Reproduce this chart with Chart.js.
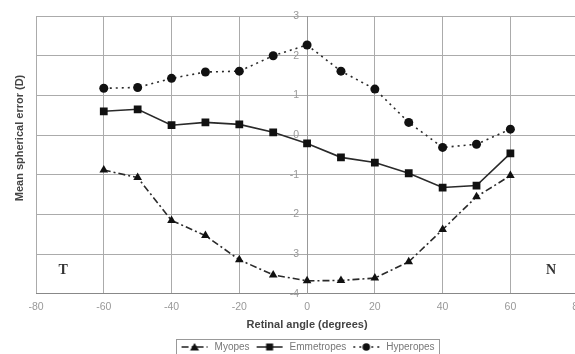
<!DOCTYPE html>
<html>
<head>
<meta charset="utf-8">
<script src="https://cdn.jsdelivr.net/npm/chart.js@4.4.1/dist/chart.umd.min.js"></script>
<style>
  html, body { margin: 0; padding: 0; background: #fff; overflow: hidden; }
  #wrap { width: 591px; height: 354px; }
</style>
</head>
<body>
<div id="wrap"><canvas id="refractionChart"></canvas></div>
<script>
// Datos
const angles = [-60, -50, -40, -30, -20, -10, 0, 10, 20, 30, 40, 50, 60];
const myopes = [-0.88, -1.07, -2.15, -2.53, -3.14, -3.52, -3.67, -3.66, -3.6, -3.19, -2.38, -1.55, -1.02];
const emmetropes = [0.6, 0.65, 0.25, 0.32, 0.27, 0.07, -0.21, -0.56, -0.69, -0.96, -1.32, -1.27, -0.46];
const hyperopes = [1.18, 1.2, 1.43, 1.59, 1.61, 2.0, 2.27, 1.61, 1.16, 0.32, -0.31, -0.23, 0.15];
const seriesNames = ['Myopes', 'Emmetropes', 'Hyperopes'];

const FONT = '"Liberation Sans", Arial, sans-serif';
const lineDashes = [[7, 3, 2, 3], [], [2, 4]];
const markers = ['triangle', 'rect', 'circle'];
const markerSizes = [5, 5.5, 4.5];

function toPoints(values) {
    return angles.map((a, i) => ({ x: a, y: values[i] }));
}

// muestra de línea + marcador para la leyenda
function legendSample(dash, marker) {
    const c = document.createElement('canvas');
    c.width = 30; c.height = 10;
    const g = c.getContext('2d');
    g.strokeStyle = '#222';
    g.lineWidth = 1.5;
    g.setLineDash(dash);
    g.beginPath(); g.moveTo(2, 5); g.lineTo(28, 5); g.stroke();
    g.fillStyle = '#111';
    g.beginPath();
    if (marker === 'triangle') {
        g.moveTo(15, 1); g.lineTo(19.5, 8.5); g.lineTo(10.5, 8.5);
    } else if (marker === 'rect') {
        g.rect(11.5, 1.5, 7, 7);
    } else {
        g.arc(15, 5, 3.8, 0, Math.PI * 2);
    }
    g.fill();
    return c;
}
const samples = seriesNames.map((n, i) => legendSample(lineDashes[i], markers[i]));

const yTitlePlugin = {
    id: 'yTitle',
    afterDraw(chart) {
        const ctx = chart.ctx;
        ctx.save();
        ctx.translate(20, 138);
        ctx.rotate(-Math.PI / 2);
        ctx.font = 'bold 11px ' + FONT;
        ctx.fillStyle = '#444';
        ctx.textAlign = 'center';
        ctx.textBaseline = 'middle';
        ctx.fillText('Mean spherical error (D)', 0, 0);
        ctx.restore();
    }
};

// etiquetas del eje Y junto a la línea x = 0
const yLabelsAtZero = {
    id: 'yLabelsAtZero',
    afterDraw(chart) {
        const { ctx, scales } = chart;
        const x0 = scales.x.getPixelForValue(0);
        ctx.save();
        ctx.font = '10.5px ' + FONT;
        ctx.fillStyle = '#999';
        ctx.textAlign = 'right';
        ctx.textBaseline = 'middle';
        scales.y.ticks.forEach(t => {
            ctx.fillText(String(t.value), x0 - 8, scales.y.getPixelForValue(t.value));
        });
        ctx.restore();
    }
};

const sideLetters = {
    id: 'sideLetters',
    afterDatasetsDraw(chart) {
        const { ctx, scales } = chart;
        ctx.save();
        ctx.font = 'bold 14px "Liberation Serif", "DejaVu Serif", serif';
        ctx.fillStyle = '#333';
        ctx.textAlign = 'center';
        ctx.textBaseline = 'middle';
        ctx.fillText('T', scales.x.getPixelForValue(-72), scales.y.getPixelForValue(-3.41));
        ctx.fillText('N', scales.x.getPixelForValue(72), scales.y.getPixelForValue(-3.41));
        ctx.restore();
    }
};

const legendFrame = {
    id: 'legendFrame',
    afterDraw(chart) {
        const boxes = chart.legend && chart.legend.legendHitBoxes;
        if (!boxes || !boxes.length) return;
        const left = Math.min(...boxes.map(b => b.left)) - 4;
        const right = Math.max(...boxes.map(b => b.left + b.width)) + 4;
        const top = Math.min(...boxes.map(b => b.top)) - 3;
        const bottom = Math.max(...boxes.map(b => b.top + b.height)) + 3;
        const ctx = chart.ctx;
        ctx.save();
        ctx.strokeStyle = '#999';
        ctx.lineWidth = 1;
        ctx.strokeRect(Math.round(left) + 0.5, Math.round(top) + 0.5, Math.round(right - left), Math.round(bottom - top));
        ctx.restore();
    }
};

const ctx = document.getElementById('refractionChart').getContext('2d');
new Chart(ctx, {
    type: 'line',
    data: {
        datasets: [myopes, emmetropes, hyperopes].map((vals, i) => ({
            label: seriesNames[i],
            data: toPoints(vals),
            borderColor: '#2a2a2a',
            borderWidth: 1.6,
            borderDash: lineDashes[i],
            pointStyle: markers[i],
            pointRadius: markerSizes[i],
            pointBackgroundColor: '#111',
            pointBorderColor: '#111',
            pointBorderWidth: 0,
            tension: 0
        }))
    },
    options: {
        responsive: true,
        maintainAspectRatio: false,
        animation: false,
        layout: { padding: { left: 36, top: 16, right: 0, bottom: -8 } },
        plugins: {
            tooltip: { enabled: false },
            legend: {
                position: 'bottom',
                fullSize: false,
                labels: {
                    usePointStyle: true,
                    pointStyleWidth: 30,
                    boxHeight: 10,
                    padding: 5,
                    color: '#777',
                    font: { size: 10, family: FONT },
                    generateLabels: chart => chart.data.datasets.map((ds, i) => ({
                        text: ds.label,
                        pointStyle: samples[i],
                        datasetIndex: i,
                        fillStyle: '#000',
                        strokeStyle: '#000',
                        lineWidth: 0,
                        hidden: false,
                        fontColor: '#777'
                    }))
                }
            }
        },
        scales: {
            x: {
                type: 'linear',
                min: -80,
                max: 80,
                ticks: { stepSize: 20, color: '#999', font: { size: 10.5, family: FONT, lineHeight: 1.1 }, padding: 7 },
                grid: { color: '#ababab', drawTicks: false },
                border: { color: '#888' },
                title: {
                    display: true,
                    text: 'Retinal angle (degrees)',
                    color: '#444',
                    font: { size: 11, weight: 'bold', family: FONT, lineHeight: 1 },
                    padding: { top: 0, bottom: 6.5 }
                }
            },
            y: {
                type: 'linear',
                min: -4,
                max: 3,
                position: { x: 0 },
                ticks: { display: false, stepSize: 1 },
                grid: { color: '#ababab', drawTicks: false },
                border: { color: '#999' }
            }
        }
    },
    plugins: [yTitlePlugin, yLabelsAtZero, sideLetters, legendFrame]
});
</script>
</body>
</html>
